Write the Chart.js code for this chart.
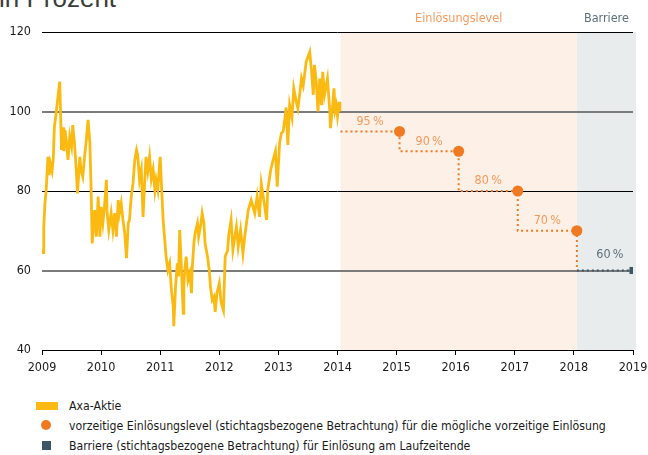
<!DOCTYPE html>
<html>
<head>
<meta charset="utf-8">
<script src="https://cdn.jsdelivr.net/npm/chart.js@4.4.1/dist/chart.umd.min.js"></script>
<style>
    body { margin: 0; background: #fff; width: 648px; height: 455px; overflow: hidden; position: relative; }
    #title { position: absolute; left: -1px; top: -15px; font: 26px/26px "Liberation Sans", Arial, sans-serif; color: #3c3c3c; white-space: nowrap; }
    #wrap { position: absolute; left: 0; top: 0; width: 648px; height: 380px; }
    .leg { position: absolute; left: 69px; font: 12.2px "DejaVu Sans Condensed", sans-serif; color: #1a1a1a; white-space: nowrap; line-height: 14px; }
    .sw { position: absolute; }
</style>
</head>
<body>
<div id="title">in Prozent</div>
<div id="wrap"><canvas id="chart"></canvas></div>

<div class="sw" style="left:36px;top:402px;width:22px;height:8px;background:#fbba12"></div>
<div class="leg" style="top:399px">Axa-Aktie</div>
<div class="sw" style="left:41px;top:420px;width:10px;height:10px;border-radius:50%;background:#f07a22"></div>
<div class="leg" style="top:419px">vorzeitige Einlösungslevel (stichtagsbezogene Betrachtung) für die mögliche vorzeitige Einlösung</div>
<div class="sw" style="left:42px;top:441px;width:9px;height:9px;background:#3d5666"></div>
<div class="leg" style="top:439px">Barriere (stichtagsbezogene Betrachtung) für Einlösung am Laufzeitende</div>

<script>
// Axa-Aktie, in Prozent
const stockYears = [
    2009.01, 2009.02, 2009.03, 2009.05, 2009.07, 2009.10, 2009.12, 2009.14, 2009.17, 2009.19,
    2009.21, 2009.24, 2009.27, 2009.30, 2009.31, 2009.33, 2009.36, 2009.37, 2009.39, 2009.41,
    2009.44, 2009.47, 2009.50, 2009.52, 2009.55, 2009.58, 2009.60, 2009.64, 2009.66, 2009.69,
    2009.72, 2009.75, 2009.78, 2009.81, 2009.83, 2009.85, 2009.89, 2009.92, 2009.95, 2009.98,
    2010.00, 2010.03, 2010.06, 2010.09, 2010.10, 2010.13, 2010.17, 2010.20, 2010.23, 2010.26,
    2010.29, 2010.31, 2010.34, 2010.37, 2010.40, 2010.43, 2010.46, 2010.48, 2010.51, 2010.54,
    2010.57, 2010.60, 2010.62, 2010.65, 2010.68, 2010.71, 2010.74, 2010.76, 2010.79, 2010.82,
    2010.85, 2010.88, 2010.91, 2010.93, 2010.96, 2010.99, 2011.00, 2011.02, 2011.05, 2011.07,
    2011.10, 2011.13, 2011.16, 2011.19, 2011.22, 2011.23, 2011.26, 2011.29, 2011.31, 2011.33,
    2011.36, 2011.39, 2011.40, 2011.42, 2011.44, 2011.47, 2011.50, 2011.53, 2011.54, 2011.57,
    2011.59, 2011.63, 2011.65, 2011.69, 2011.71, 2011.74, 2011.76, 2011.80, 2011.83, 2011.85,
    2011.88, 2011.91, 2011.93, 2011.96, 2012.00, 2012.03, 2012.07, 2012.10, 2012.14, 2012.16,
    2012.20, 2012.23, 2012.29, 2012.32, 2012.36, 2012.40, 2012.43, 2012.49, 2012.54, 2012.60,
    2012.64, 2012.68, 2012.71, 2012.76, 2012.80, 2012.82, 2012.87, 2012.91, 2012.95, 2012.98,
    2013.02, 2013.05, 2013.08, 2013.11, 2013.13, 2013.16, 2013.19, 2013.23, 2013.26, 2013.30,
    2013.33, 2013.36, 2013.39, 2013.42, 2013.47, 2013.53, 2013.56, 2013.59, 2013.61, 2013.64,
    2013.67, 2013.70, 2013.73, 2013.75, 2013.78, 2013.83, 2013.87, 2013.88, 2013.91, 2013.94,
    2013.96, 2013.98, 2014.00, 2014.03, 2014.04
];
const stockValues = [
    65.5, 64.5, 71, 77, 80, 88.6, 84, 87, 85, 88,
    96.2, 99.6, 103.7, 107.5, 102, 90.3, 96, 90, 95.3, 93,
    87.8, 93.7, 91.3, 96.6, 92, 85.3, 79.4, 88.6, 85.3, 83.6,
    88.6, 92.8, 97.9, 92, 81.1, 66.8, 75.2, 68.5, 78.6, 68.5,
    76, 72, 76.6, 82.8, 75, 70.2, 74.4, 70.2, 74.4, 68.5,
    77.7, 74.4, 76.9, 72.7, 69.4, 63.1, 71.9, 72.7, 78.6, 81.9,
    87.8, 90.3, 89, 82.8, 85.3, 73.5, 82.8, 88.6, 85, 88.6,
    83, 85.4, 80.3, 82.8, 80.3, 87, 88.6, 82, 72.7, 69,
    63.5, 60.1, 61.8, 55.1, 50.9, 46, 56, 61.8, 58.5, 70.2,
    60.1, 49.2, 56.4, 61, 63.5, 57.6, 59.3, 54.3, 60.1, 66.8,
    69.4, 71.9, 68.5, 71.9, 74.4, 71.9, 66.8, 63.5, 60.1, 56,
    52.6, 53.4, 49.6, 54.3, 56.8, 52, 50, 63.5, 65, 69,
    72.7, 65.2, 71, 66, 70.2, 64.3, 68.5, 75.2, 77.7, 74.4,
    78.6, 73.5, 81.9, 77, 72.7, 80.3, 85.3, 87.8, 90, 81.1,
    92, 94.5, 95, 98.3, 101, 91.6, 101.6, 98.5, 105.8, 102.6,
    100.8, 104.3, 108.3, 106.5, 112.5, 115, 110.3, 104.2, 111.7, 107.5,
    100, 108.3, 101.6, 110, 104.2, 108.3, 100, 95.8, 100, 105.8,
    100.3, 101.6, 98.8, 102.4, 100
];

// vorzeitige Einlösungslevel und Barriere
const levelStart = 2014.05;
const levelYears = [2015.05, 2016.05, 2017.05, 2018.05];
const levelValues = [95, 90, 80, 70];
const levelLabels = ['95\u2009%', '90\u2009%', '80\u2009%', '70\u2009%'];
const barrierYear = 2019;
const barrierValue = 60;
const barrierLabel = '60\u2009%';
const bandEnd = 2019.05;

const yTicks = [40, 60, 80, 100, 120];
const xTicks = [2009, 2010, 2011, 2012, 2013, 2014, 2015, 2016, 2017, 2018, 2019];

const colors = {
    stock: '#fbba12',
    orange: '#f07a22',
    orangeText: '#f39a5c',
    barrier: '#3d5666',
    barrierText: '#5e707c',
    bandOrange: '#fdf0e7',
    bandGray: '#e8ecec'
};

const FONT = '"DejaVu Sans Condensed", sans-serif';

// step line: starts at 95, steps down at each observation date, ends at the barrier
const stepData = [levelStart, ...levelYears].map((x, i) => ({
    x: x,
    y: i < levelValues.length ? levelValues[i] : barrierValue
}));

const bandsPlugin = {
    id: 'bands',
    beforeDraw(chart) {
        const { ctx, chartArea, scales } = chart;
        const x = scales.x;
        const lastLevel = levelYears[levelYears.length - 1];
        ctx.save();
        ctx.fillStyle = colors.bandOrange;
        ctx.fillRect(x.getPixelForValue(levelStart), chartArea.top,
            x.getPixelForValue(lastLevel) - x.getPixelForValue(levelStart), chartArea.bottom - chartArea.top);
        ctx.fillStyle = colors.bandGray;
        ctx.fillRect(x.getPixelForValue(lastLevel), chartArea.top,
            x.getPixelForValue(bandEnd) - x.getPixelForValue(lastLevel), chartArea.bottom - chartArea.top);

        ctx.font = '12.5px ' + FONT;
        ctx.textAlign = 'center';
        ctx.textBaseline = 'middle';
        ctx.fillStyle = colors.orangeText;
        ctx.fillText('Einlösungslevel', (x.getPixelForValue(levelStart) + x.getPixelForValue(lastLevel)) / 2, 19);
        ctx.fillStyle = colors.barrierText;
        ctx.fillText('Barriere', (x.getPixelForValue(lastLevel) + x.getPixelForValue(bandEnd)) / 2, 19);
        ctx.restore();
    }
};

const labelsPlugin = {
    id: 'levelLabels',
    afterDatasetsDraw(chart) {
        const { ctx, scales } = chart;
        const starts = [levelStart, ...levelYears];
        ctx.save();
        ctx.font = '12.5px ' + FONT;
        ctx.textAlign = 'center';
        ctx.textBaseline = 'middle';
        ctx.fillStyle = colors.orangeText;
        levelValues.forEach((v, i) => {
            const cx = (scales.x.getPixelForValue(starts[i]) + scales.x.getPixelForValue(starts[i + 1])) / 2;
            ctx.fillText(levelLabels[i], cx, scales.y.getPixelForValue(v) - 10);
        });
        ctx.fillStyle = colors.barrierText;
        const bx = (scales.x.getPixelForValue(levelYears[levelYears.length - 1]) + scales.x.getPixelForValue(barrierYear)) / 2;
        ctx.fillText(barrierLabel, bx + 5, scales.y.getPixelForValue(barrierValue) - 16);
        ctx.restore();
    }
};

new Chart(document.getElementById('chart'), {
    type: 'line',
    data: {
        datasets: [
            {
                label: 'Axa-Aktie',
                data: stockYears.map((x, i) => ({ x: x, y: stockValues[i] })),
                borderColor: colors.stock,
                borderWidth: 2.8,
                pointRadius: 0,
                tension: 0,
                order: 4
            },
            {
                label: 'Stufen',
                data: stepData,
                stepped: 'before',
                borderColor: colors.orange,
                borderWidth: 2,
                borderDash: [2, 3],
                pointRadius: 0,
                order: 3
            },
            {
                label: 'Barriere-Linie',
                data: [{ x: levelYears[levelYears.length - 1], y: barrierValue }, { x: barrierYear, y: barrierValue }],
                borderColor: colors.barrier,
                borderWidth: 2,
                borderDash: [2, 3],
                pointRadius: 0,
                order: 2
            },
            {
                label: 'vorzeitige Einlösungslevel',
                type: 'scatter',
                data: levelYears.map((x, i) => ({ x: x, y: levelValues[i] })),
                backgroundColor: colors.orange,
                borderWidth: 0,
                pointRadius: 5.5,
                order: 1
            },
            {
                label: 'Barriere',
                type: 'scatter',
                data: [{ x: barrierYear, y: barrierValue }],
                backgroundColor: colors.barrier,
                borderWidth: 0,
                pointStyle: 'rect',
                pointRadius: 5,
                order: 0
            }
        ]
    },
    options: {
        responsive: true,
        maintainAspectRatio: false,
        animation: false,
        layout: { padding: { top: 32, right: 15, left: 0, bottom: 0 } },
        plugins: {
            legend: { display: false },
            tooltip: { enabled: false }
        },
        scales: {
            x: {
                type: 'linear',
                min: xTicks[0],
                max: xTicks[xTicks.length - 1],
                afterBuildTicks: s => { s.ticks = xTicks.map(v => ({ value: v })); },
                afterFit: s => { s.height = 30; s.paddingLeft = 0; s.paddingRight = 0; },
                ticks: {
                    callback: v => String(v),
                    color: '#1a1a1a',
                    padding: 5,
                    maxRotation: 0,
                    font: { family: FONT, size: 12.5 }
                },
                grid: { drawOnChartArea: false, tickLength: 5, color: '#000' },
                border: { display: true, color: '#000', width: 1 }
            },
            y: {
                min: yTicks[0],
                max: yTicks[yTicks.length - 1],
                afterBuildTicks: s => { s.ticks = yTicks.map(v => ({ value: v })); },
                afterFit: s => { s.width = 42; },
                ticks: {
                    color: '#1a1a1a',
                    padding: 11,
                    font: { family: FONT, size: 12.5 }
                },
                grid: {
                    drawTicks: false,
                    color: c => (c.tick.value === 100 || c.tick.value === 60) ? '#7b7b7b' : '#000',
                    lineWidth: c => (c.tick.value === 100 || c.tick.value === 60) ? 2 : 1
                },
                border: { display: false }
            }
        }
    },
    plugins: [bandsPlugin, labelsPlugin]
});
</script>
</body>
</html>
